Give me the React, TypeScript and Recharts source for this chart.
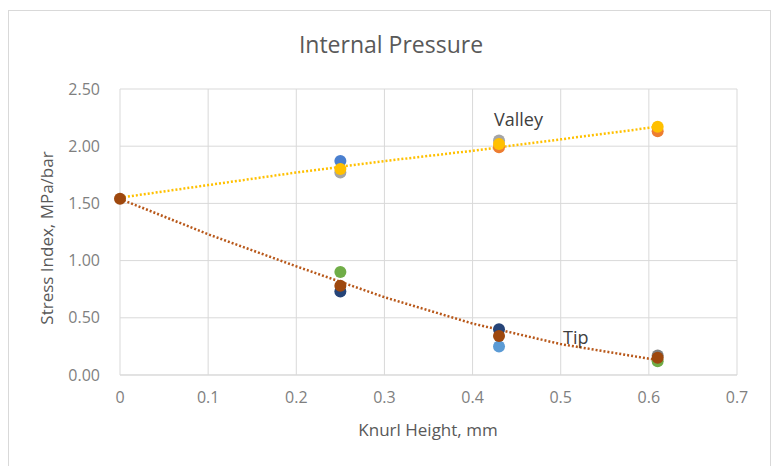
import { CartesianGrid, Scatter, ScatterChart, XAxis, YAxis } from "recharts";

const xTicks = [0, 0.1, 0.2, 0.3, 0.4, 0.5, 0.6, 0.7];
const yTicks = [0, 0.5, 1, 1.5, 2, 2.5];

// valley points, one array per colour
const valleyBlue = [{ x: 0.25, y: 1.87 }];
const valleyGrey = [{ x: 0.25, y: 1.77 }, { x: 0.43, y: 2.05 }];
const valleyOrange = [{ x: 0.43, y: 1.99 }, { x: 0.61, y: 2.13 }];
const valleyYellow = [{ x: 0.25, y: 1.8 }, { x: 0.43, y: 2.02 }, { x: 0.61, y: 2.17 }];

// tip points
const tipGreen = [{ x: 0.25, y: 0.9 }, { x: 0.61, y: 0.12 }];
const tipNavy = [{ x: 0.25, y: 0.73 }, { x: 0.43, y: 0.4 }];
const tipLightBlue = [{ x: 0.43, y: 0.25 }];
const tipGrey = [{ x: 0.61, y: 0.17 }];
const tipBrown = [{ x: 0, y: 1.54 }, { x: 0.25, y: 0.78 }, { x: 0.43, y: 0.34 }, { x: 0.61, y: 0.15 }];

// trendlines
const valleyTrend = [
  { x: 0, y: 1.55 }, { x: 0.1, y: 1.66 }, { x: 0.2, y: 1.77 }, { x: 0.3, y: 1.87 },
  { x: 0.4, y: 1.96 }, { x: 0.5, y: 2.06 }, { x: 0.61, y: 2.17 },
];
const tipTrend = [
  { x: 0, y: 1.54 }, { x: 0.1, y: 1.23 }, { x: 0.2, y: 0.95 }, { x: 0.3, y: 0.68 },
  { x: 0.4, y: 0.45 }, { x: 0.5, y: 0.27 }, { x: 0.61, y: 0.13 },
];

const font = "'Open Sans', 'Noto Sans', sans-serif";
const tickStyle = { fill: "#7f7f7f", fontSize: 16, fontFamily: font };

const dot = (color: string) => (props: any) =>
  <circle cx={props.cx} cy={props.cy} r={6} fill={color} />;

const noShape = () => <g />;

export default function App() {
  return (
    <div style={{ position: "absolute", left: 0, top: 0, width: 773, height: 466, background: "#fff", fontFamily: font, overflow: "hidden" }}>
      <div style={{ position: "absolute", left: 8, top: 10, width: 761, height: 470, border: "1px solid #d9d9d9" }} />
      <ScatterChart width={773} height={466} margin={{ top: 89, right: 36, bottom: 61, left: 60 }}>
        <CartesianGrid stroke="#d9d9d9" />
        <XAxis
          dataKey="x"
          type="number"
          domain={[0, 0.7]}
          ticks={xTicks}
          tickLine={false}
          stroke="#d9d9d9"
          tick={tickStyle}
          tickMargin={11}
          height={30}
        />
        <YAxis
          dataKey="y"
          type="number"
          domain={[0, 2.5]}
          ticks={yTicks}
          tickFormatter={(v) => Number(v).toFixed(2)}
          tickLine={false}
          axisLine={false}
          tick={tickStyle}
          tickMargin={14}
          width={60}
        />
        <Scatter data={valleyTrend} line={{ stroke: "#ffc000", strokeWidth: 2.5, strokeDasharray: "2 2" }} shape={noShape} isAnimationActive={false} />
        <Scatter data={tipTrend} line={{ stroke: "#b8581a", strokeWidth: 2.5, strokeDasharray: "2 2" }} shape={noShape} isAnimationActive={false} />
        <Scatter data={valleyBlue} shape={dot("#4a7fcf")} isAnimationActive={false} />
        <Scatter data={valleyGrey} shape={dot("#a5a5a5")} isAnimationActive={false} />
        <Scatter data={valleyOrange} shape={dot("#ed7d31")} isAnimationActive={false} />
        <Scatter data={valleyYellow} shape={dot("#ffc000")} isAnimationActive={false} />
        <Scatter data={tipLightBlue} shape={dot("#5b9bd5")} isAnimationActive={false} />
        <Scatter data={tipGreen} shape={dot("#70ad47")} isAnimationActive={false} />
        <Scatter data={tipGrey} shape={dot("#7f7f7f")} isAnimationActive={false} />
        <Scatter data={tipNavy} shape={dot("#264478")} isAnimationActive={false} />
        <Scatter data={tipBrown} shape={dot("#9e480e")} isAnimationActive={false} />
      </ScatterChart>
      <div style={{ position: "absolute", left: 0, width: 782, top: 29, textAlign: "center", fontSize: 23, lineHeight: "31px", color: "#595959" }}>
        Internal Pressure
      </div>
      <div style={{ position: "absolute", left: 328, width: 200, top: 418, textAlign: "center", fontSize: 17, lineHeight: "23px", color: "#595959" }}>
        Knurl Height, mm
      </div>
      <div
        style={{
          position: "absolute", left: 47, top: 238, width: 240, textAlign: "center", fontSize: 17, color: "#595959",
          transform: "translate(-50%, -50%) rotate(-90deg)", lineHeight: "22px",
        }}
      >
        Stress Index, MPa/bar
      </div>
      <div style={{ position: "absolute", left: 494, top: 107, fontSize: 18, lineHeight: "25px", color: "#404040" }}>Valley</div>
      <div style={{ position: "absolute", left: 563, top: 325, fontSize: 18, lineHeight: "25px", color: "#404040" }}>Tip</div>
    </div>
  );
}
